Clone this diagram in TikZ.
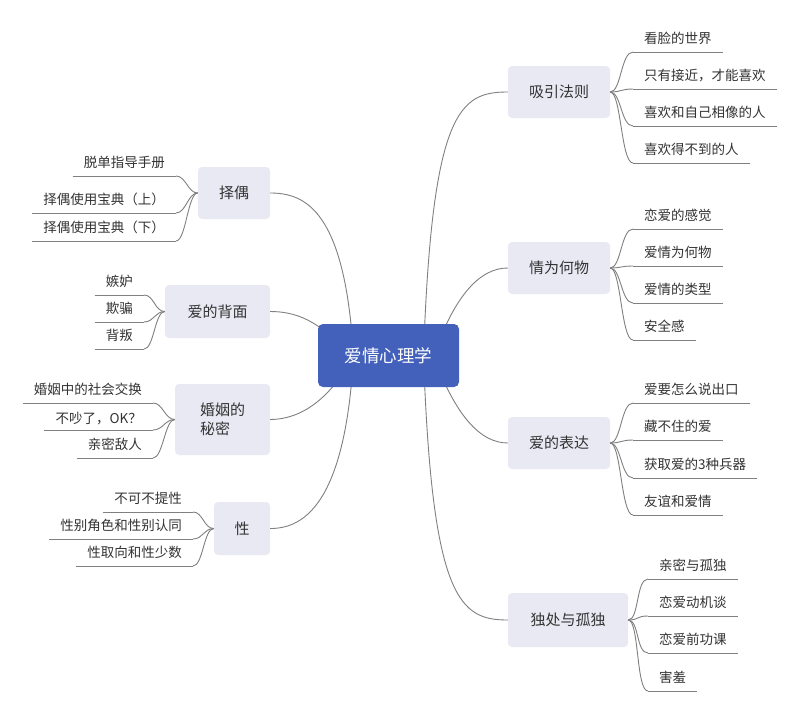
\documentclass[tikz,border=0pt]{standalone}
\usepackage{fontspec}
\newfontfamily\cjk{Noto Sans CJK SC}
\definecolor{lncol}{RGB}{128,128,128}
\definecolor{boxfill}{RGB}{232,233,243}
\definecolor{cfill}{RGB}{67,96,187}
\definecolor{txt}{RGB}{51,51,51}
\tikzset{
  ln/.style={draw=lncol, line width=0.9pt},
  branch/.style={fill=boxfill, rounded corners=4pt, text=txt, font=\cjk\fontsize{15}{19}\selectfont, inner sep=0pt, align=left},
  root/.style={fill=cfill, rounded corners=5pt, text=white, font=\cjk\fontsize{17.5}{20}\selectfont, inner sep=0pt},
  leaf/.style={font=\cjk\fontsize{13.5}{16}\selectfont, text=txt, inner xsep=11pt, inner ysep=5pt, text height=11pt, text depth=3pt},
}
\begin{document}
\begin{tikzpicture}[x=1pt,y=-1pt]
\useasboundingbox (0,0) rectangle (800,712);
\fill[white] (0,0) rectangle (800,712);

% branch boxes
\node[branch, minimum width=102pt, minimum height=52pt] (b1) at (559,92) {吸引法则};
\node[branch, minimum width=102pt, minimum height=52pt] (b2) at (559,268) {情为何物};
\node[branch, minimum width=102pt, minimum height=52pt] (b3) at (559,443) {爱的表达};
\node[branch, minimum width=120pt, minimum height=54pt] (b4) at (568,620) {独处与孤独};
\node[branch, minimum width=72pt, minimum height=52pt] (l1) at (234,193) {择偶};
\node[branch, minimum width=105pt, minimum height=53pt] (l2) at (217.5,311.5) {爱的背面};
\node[branch, minimum width=95pt, minimum height=71pt] (l3) at (222.5,419.5) {婚姻的\\秘密};
\node[branch, minimum width=56pt, minimum height=53pt] (l4) at (242,528.5) {性};

% main connectors (drawn under the root)
\coordinate (c) at (388.5,355.5);
\draw[ln] ([xshift=35pt]c) .. controls (432,110) and (460,92) .. (b1.west);
\draw[ln] ([xshift=45pt]c) .. controls (455,295) and (480,268) .. (b2.west);
\draw[ln] ([xshift=45pt]c) .. controls (455,415) and (480,443) .. (b3.west);
\draw[ln] ([xshift=35pt]c) .. controls (432,600) and (460,620) .. (b4.west);
\draw[ln] ([xshift=-35pt]c) .. controls (345,210) and (305,193) .. (l1.east);
\draw[ln] ([xshift=-40pt]c) .. controls (320,320) and (295,311.5) .. (l2.east);
\draw[ln] ([xshift=-35pt]c) .. controls (330,400) and (300,419.5) .. (l3.east);
\draw[ln] ([xshift=-35pt]c) .. controls (345,510) and (300,528.5) .. (l4.east);

\node[root, minimum width=141pt, minimum height=63pt] (root) at (c) {爱情心理学};

% right leaves
\node[leaf, anchor=south west] (a1) at (633,52) {看脸的世界};
\node[leaf, anchor=south west] (a2) at (633,89) {只有接近，才能喜欢};
\node[leaf, anchor=south west] (a3) at (633,126) {喜欢和自己相像的人};
\node[leaf, anchor=south west] (a4) at (633,163) {喜欢得不到的人};
\node[leaf, anchor=south west] (q1) at (633,229) {恋爱的感觉};
\node[leaf, anchor=south west] (q2) at (633,266) {爱情为何物};
\node[leaf, anchor=south west] (q3) at (633,303) {爱情的类型};
\node[leaf, anchor=south west] (q4) at (633,340) {安全感};
\node[leaf, anchor=south west] (e1) at (633,403) {爱要怎么说出口};
\node[leaf, anchor=south west] (e2) at (633,440) {藏不住的爱};
\node[leaf, anchor=south west] (e3) at (633,478) {获取爱的3种兵器};
\node[leaf, anchor=south west] (e4) at (633,515) {友谊和爱情};
\node[leaf, anchor=south west] (d1) at (648,579) {亲密与孤独};
\node[leaf, anchor=south west] (d2) at (648,616) {恋爱动机谈};
\node[leaf, anchor=south west] (d3) at (648,653) {恋爱前功课};
\node[leaf, anchor=south west] (d4) at (648,691) {害羞};

\foreach \b/\l in {b1/a1,b1/a2,b1/a3,b1/a4,b2/q1,b2/q2,b2/q3,b2/q4,b3/e1,b3/e2,b3/e3,b3/e4,b4/d1,b4/d2,b4/d3,b4/d4}{
  \draw[ln] (\l.south west) -- (\l.south east);
  \draw[ln] (\b.east) .. controls ([xshift=11pt]\b.east) and ([xshift=-12pt]\l.south west) .. (\l.south west);
}

% left leaves
\node[leaf, anchor=south east] (z1) at (176,176) {脱单指导手册};
\node[leaf, anchor=south east] (z2) at (176,213) {择偶使用宝典（上）};
\node[leaf, anchor=south east] (z3) at (176,241) {择偶使用宝典（下）};
\node[leaf, anchor=south east] (k1) at (144,295) {嫉妒};
\node[leaf, anchor=south east] (k2) at (144,322) {欺骗};
\node[leaf, anchor=south east] (k3) at (144,349) {背叛};
\node[leaf, anchor=south east] (m1) at (153,403) {婚姻中的社会交换};
\node[leaf, anchor=south east, inner ysep=3pt] (m2) at (153,430) {不吵了，OK？};
\node[leaf, anchor=south east] (m3) at (153,458) {亲密敌人};
\node[leaf, anchor=south east] (s1) at (193,512) {不可不提性};
\node[leaf, anchor=south east] (s2) at (193,539) {性别角色和性别认同};
\node[leaf, anchor=south east] (s3) at (193,566) {性取向和性少数};

\foreach \b/\l in {l1/z1,l1/z2,l1/z3,l2/k1,l2/k2,l2/k3,l3/m1,l3/m2,l3/m3,l4/s1,l4/s2,l4/s3}{
  \draw[ln] (\l.south west) -- (\l.south east);
  \draw[ln] (\b.west) .. controls ([xshift=-10pt]\b.west) and ([xshift=10pt]\l.south east) .. (\l.south east);
}
\end{tikzpicture}
\end{document}
